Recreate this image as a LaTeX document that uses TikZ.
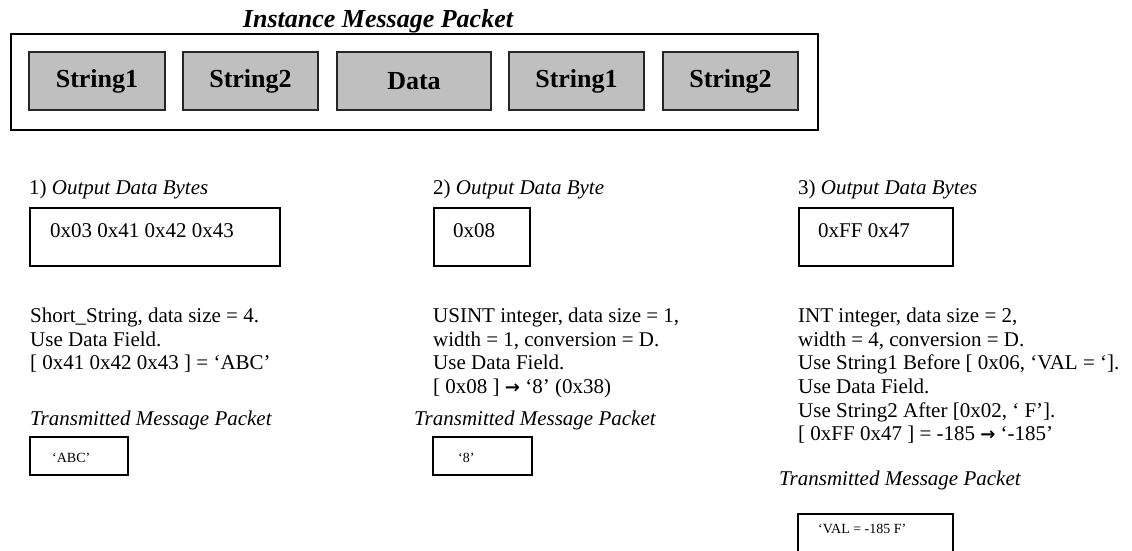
\documentclass[tikz,border=0pt]{standalone}
\usepackage{fontspec}
\setmainfont{Liberation Serif}
\newfontfamily\symfont{DejaVu Sans}
\newcommand{\toarrow}{{\symfont\bfseries\fontsize{18}{20}\selectfont →}}
\begin{document}
\begin{tikzpicture}[x=1pt,y=-1pt,
  field/.style={draw=black!85, fill=black!25, line width=1.3pt, inner sep=0pt,
    minimum height=58pt, font=\fontsize{26}{30}\selectfont\bfseries},
  title/.style={inner sep=0pt, font=\fontsize{26}{30}\selectfont\bfseries\itshape},
  txt/.style={inner sep=0pt, anchor=base west, font=\fontsize{21}{24}\selectfont},
  itxt/.style={txt, font=\fontsize{21}{24}\selectfont\itshape},
  desc/.style={inner sep=0pt, anchor=north west, align=left, font=\fontsize{21}{23.6}\selectfont},
  bytebox/.style={draw, line width=1.8pt, inner sep=0pt, anchor=north west},
  smalltxt/.style={inner sep=0pt, anchor=base west, font=\fontsize{14}{16}\selectfont}]
\clip (0,0) rectangle (1132,550);
\useasboundingbox (0,0) rectangle (1132,550);

% packet layout
\node[title, anchor=base] (ttl) at (378,27) {Instance Message Packet};
\node[draw, line width=2.4pt, inner sep=0pt, minimum width=807pt, minimum height=96pt,
  anchor=north west] (pkt) at (10,33) {};
\node[field, minimum width=136pt] (s1a) at (97,81) {String1};
\node[field, minimum width=135pt] (s2a) at (250.5,81) {String2};
\node[field, minimum width=154pt] (dat) at (414,81) {Data};
\node[field, minimum width=135pt] (s1b) at (576.5,81) {String1};
\node[field, minimum width=135pt] (s2b) at (730.5,81) {String2};

% example 1
\node[txt] (h1) at (29,194) {1) \textit{Output Data Bytes}};
\node[bytebox, minimum width=250pt, minimum height=58pt] (b1) at (29,207) {};
\node[txt] (v1) at (50,237) {0x03 0x41 0x42 0x43};
\node[desc] (d1) at (30,306) {\strut Short\_String, data size = 4.\\Use Data Field.\\{}[ 0x41 0x42 0x43 ] = ‘ABC’};
\node[itxt] (m1) at (30,425) {Transmitted Message Packet};
\node[bytebox, line width=1.5pt, minimum width=98pt, minimum height=38pt] (t1) at (29,436) {};
\node[smalltxt] (r1) at (52,462) {‘ABC’};

% example 2
\node[txt] (h2) at (433,194) {2) \textit{Output Data Byte}};
\node[bytebox, minimum width=96pt, minimum height=58pt] (b2) at (433,207) {};
\node[txt] (v2) at (453,237) {0x08};
\node[desc] (d2) at (433,306) {\strut USINT integer, data size = 1,\\width = 1, conversion = D.\\Use Data Field.\\{}[ 0x08 ] \toarrow{} ‘8’ (0x38)};
\node[itxt] (m2) at (414,425) {Transmitted Message Packet};
\node[bytebox, line width=1.5pt, minimum width=99pt, minimum height=38pt] (t2) at (432,436) {};
\node[smalltxt] (r2) at (458,462) {‘8’};

% example 3
\node[txt] (h3) at (798,194) {3) \textit{Output Data Bytes}};
\node[bytebox, minimum width=154pt, minimum height=58pt] (b3) at (798,207) {};
\node[txt] (v3) at (818,237) {0xFF 0x47};
\node[desc] (d3) at (798,306) {\strut INT integer, data size = 2,\\width = 4, conversion = D.\\Use String1 Before [ 0x06, ‘VAL = ‘].\\Use Data Field.\\Use String2 After [0x02, ‘ F’].\\{}[ 0xFF 0x47 ] = -185 \toarrow{} ‘-185’};
\node[itxt] (m3) at (779,485) {Transmitted Message Packet};
\node[bytebox, minimum width=155pt, minimum height=50pt] (t3) at (797,513) {};
\node[smalltxt] (r3) at (818,533) {‘VAL = -185 F’};
\end{tikzpicture}
\end{document}
